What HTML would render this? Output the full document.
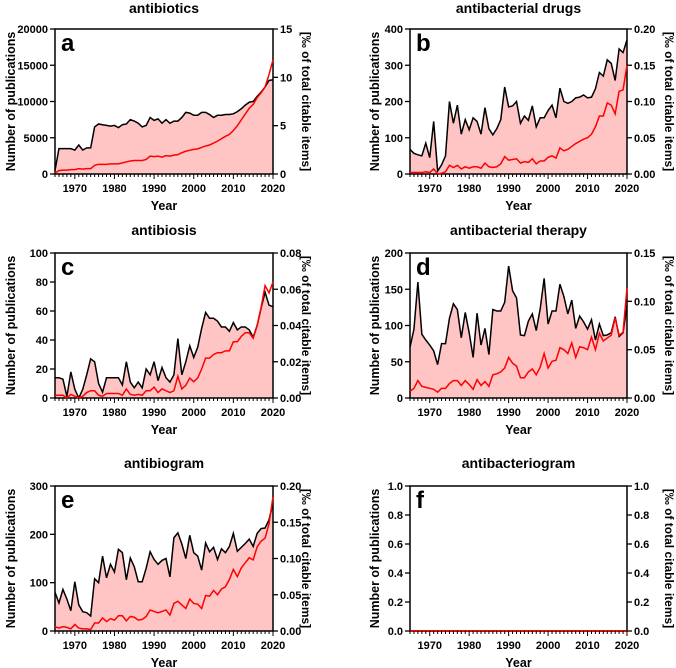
<!DOCTYPE html>
<html><head><meta charset="utf-8"><style>
body{margin:0;background:#fff;}
svg{display:block;font-family:"Liberation Sans",Arial,sans-serif;font-weight:bold;}
</style></head><body>
<svg id="fig" width="676" height="668" viewBox="0 0 676 668" xmlns="http://www.w3.org/2000/svg"></svg>
<script>
const years = []; for (let y = 1965; y <= 2020; y++) years.push(y);
const xTickLabels = [1970, 1980, 1990, 2000, 2010, 2020];
const titles = ["antibiotics","antibacterial drugs","antibiosis","antibacterial therapy","antibiogram","antibacteriogram"];
const letters = ["a","b","c","d","e","f"];
const leftTicks = [[0,5000,10000,15000,20000],[0,100,200,300,400],[0,20,40,60,80,100],[0,50,100,150,200],[0,100,200,300],[0,0.2,0.4,0.6,0.8,1.0]];
const leftTickLabels = [["0","5000","10000","15000","20000"],["0","100","200","300","400"],["0","20","40","60","80","100"],["0","50","100","150","200"],["0","100","200","300"],["0.0","0.2","0.4","0.6","0.8","1.0"]];
const rightTicks = [[0,5,10,15],[0,0.05,0.10,0.15,0.20],[0,0.02,0.04,0.06,0.08],[0,0.05,0.10,0.15],[0,0.05,0.10,0.15,0.20],[0,0.2,0.4,0.6,0.8,1.0]];
const rightTickLabels = [["0","5","10","15"],["0.00","0.05","0.10","0.15","0.20"],["0.00","0.02","0.04","0.06","0.08"],["0.00","0.05","0.10","0.15"],["0.00","0.05","0.10","0.15","0.20"],["0.0","0.2","0.4","0.6","0.8","1.0"]];

const pubsA = [500,3500,3500,3500,3500,3300,4000,3300,3600,3600,6500,6900,6800,6700,6600,6700,6400,6800,6900,7500,7300,7000,6500,6700,7800,7400,7600,7000,7500,7000,7300,7300,7800,8500,8400,8100,8100,8500,8500,8200,7800,8100,8100,8200,8200,8300,8600,9000,9500,9900,10000,10700,11300,12000,12900,13000];
const permA = [0.1,0.35,0.4,0.4,0.45,0.45,0.55,0.5,0.55,0.55,0.9,1.0,1.0,1.0,1.05,1.05,1.05,1.15,1.25,1.35,1.4,1.4,1.4,1.5,1.85,1.8,1.85,1.75,1.9,1.85,1.95,2.0,2.2,2.35,2.45,2.55,2.6,2.75,2.9,3.0,3.2,3.4,3.65,3.9,4.1,4.5,5.0,5.6,6.2,6.8,7.2,7.9,8.4,9.0,10.3,11.8];
const pubsB = [68,57,53,50,85,45,145,8,25,50,200,140,190,110,150,122,155,145,110,183,125,108,125,150,240,185,188,200,140,160,148,188,130,155,155,175,190,155,237,200,195,200,210,212,218,210,212,235,280,270,315,305,258,345,335,370];
const permB = [0.002,0.002,0.002,0.002,0.003,0.002,0.007,0,0.001,0.003,0.012,0.009,0.012,0.007,0.01,0.008,0.01,0.01,0.008,0.015,0.01,0.009,0.01,0.014,0.024,0.019,0.02,0.021,0.015,0.017,0.016,0.021,0.014,0.018,0.018,0.023,0.025,0.022,0.036,0.032,0.034,0.038,0.042,0.045,0.048,0.05,0.055,0.065,0.08,0.08,0.098,0.095,0.083,0.114,0.116,0.15];
const pubsC = [14,14,13,1,18,6,0,6,16,27,25,10,4,14,14,14,14,9,25,11,7,11,7,20,16,25,12,21,14,11,16,41,16,25,36,28,35,48,59,55,55,53,49,49,46,52,47,49,49,47,42,50,62,73,64,63];
const permC = [0.0015,0.0015,0.0015,0,0.002,0.001,0,0.001,0.003,0.004,0.004,0.0015,0.001,0.0025,0.0025,0.0025,0.0025,0.0015,0.005,0.002,0.0015,0.002,0.0015,0.004,0.004,0.006,0.003,0.005,0.004,0.003,0.004,0.012,0.005,0.007,0.011,0.009,0.011,0.016,0.022,0.022,0.024,0.025,0.025,0.026,0.026,0.031,0.031,0.034,0.036,0.036,0.033,0.04,0.05,0.062,0.058,0.064];
const pubsD = [70,95,160,88,80,73,65,46,75,75,110,130,122,83,118,90,56,117,73,96,60,122,120,120,132,182,148,138,87,86,106,116,93,123,165,102,120,120,157,140,116,135,96,113,105,95,108,80,102,86,87,90,112,85,90,128];
const permD = [0.007,0.01,0.018,0.012,0.011,0.01,0.009,0.006,0.01,0.01,0.015,0.018,0.018,0.013,0.018,0.014,0.009,0.019,0.013,0.017,0.012,0.024,0.025,0.027,0.031,0.042,0.036,0.033,0.021,0.021,0.027,0.03,0.024,0.032,0.046,0.031,0.038,0.039,0.052,0.05,0.046,0.057,0.042,0.053,0.052,0.05,0.063,0.05,0.067,0.059,0.062,0.065,0.083,0.065,0.068,0.114];
const pubsE = [80,58,86,66,42,102,54,40,38,31,108,100,155,110,138,122,169,162,106,151,133,102,102,130,164,148,138,146,150,112,193,203,180,150,198,162,155,126,182,164,173,148,170,162,175,202,165,173,181,190,175,202,212,213,230,265];
const permE = [0.006,0.004,0.006,0.005,0.003,0.009,0.004,0.003,0.003,0.002,0.011,0.011,0.018,0.013,0.017,0.015,0.021,0.021,0.014,0.02,0.019,0.015,0.016,0.02,0.029,0.027,0.025,0.027,0.029,0.022,0.038,0.041,0.036,0.031,0.044,0.038,0.037,0.031,0.049,0.048,0.056,0.05,0.058,0.061,0.071,0.085,0.075,0.087,0.094,0.101,0.098,0.116,0.124,0.128,0.148,0.185];
const pubsF = years.map(() => 0);
const permF = years.map(() => 0);

const pubs = [pubsA,pubsB,pubsC,pubsD,pubsE,pubsF];
const perm = [permA,permB,permC,permD,permE,permF];

const NS = "http://www.w3.org/2000/svg";
const svg = document.getElementById("fig");
function mk(tag, attrs, parent, text) {
  const e = document.createElementNS(NS, tag);
  for (const k in attrs) e.setAttribute(k, attrs[k]);
  if (text !== undefined) e.textContent = text;
  (parent || svg).appendChild(e);
  return e;
}
const cols = [{x0:55,x1:273,yl:11,yr:306},{x0:410,x1:627,yl:375,yr:669}];
const rows = [{y0:29,y1:174,t:8},{y0:253,y1:398,t:230},{y0:486,y1:631,t:463}];

for (let p = 0; p < 6; p++) {
  const c = cols[p % 2], r = rows[Math.floor(p / 2)];
  const g = mk("g", {});
  
  
  const lt = leftTicks[p], rt = rightTicks[p];
  const lmax = lt[lt.length - 1], rmax = rt[rt.length - 1];
  const xs = v => c.x0 + (v - 1965) / 55 * (c.x1 - c.x0);
  const yL = v => r.y1 - v / lmax * (r.y1 - r.y0);
  const yR = v => r.y1 - v / rmax * (r.y1 - r.y0);
  const cx = (c.x0 + c.x1) / 2, cy = (r.y0 + r.y1) / 2;

  const t = mk("text", {x: cx, y: r.t + 5, "text-anchor": "middle", "font-size": 14}, g, titles[p]);
  
  

  let d = "M" + xs(years[0]) + "," + r.y1;
  years.forEach((y, i) => { d += " L" + xs(y).toFixed(2) + "," + yL(pubs[p][i]).toFixed(2); });
  d += " L" + xs(years[years.length - 1]) + "," + r.y1 + " Z";
  const area = mk("path", {d: d, fill: "#ffc4c4", stroke: "none"}, g);
  
  

  const frame = mk("rect", {x: c.x0, y: r.y0, width: c.x1 - c.x0, height: r.y1 - r.y0, fill: "none", stroke: "#000", "stroke-width": 1.5}, g);
  
  

  const lineB = mk("polyline", {points: years.map((y, i) => xs(y).toFixed(2) + "," + yL(pubs[p][i]).toFixed(2)).join(" "), fill: "none", stroke: "#000", "stroke-width": 1.5}, g);
  
  
  const lineR = mk("polyline", {points: years.map((y, i) => xs(y).toFixed(2) + "," + yR(perm[p][i]).toFixed(2)).join(" "), fill: "none", stroke: "#ff0000", "stroke-width": 1.5}, g);
  
  

  years.forEach(y => {
    const major = y % 10 === 0;
    mk("line", {x1: xs(y), x2: xs(y), y1: r.y1, y2: r.y1 + (major ? 5 : 3), stroke: "#000", "stroke-width": 1}, g);
  });
  xTickLabels.forEach(y => {
    const tl = mk("text", {x: xs(y), y: r.y1 + 18, "text-anchor": "middle", "font-size": 11}, g, String(y));
    
    
  });
  lt.forEach((v, i) => {
    mk("line", {x1: c.x0 - 5, x2: c.x0, y1: yL(v), y2: yL(v), stroke: "#000", "stroke-width": 1.3}, g);
    const tl = mk("text", {x: c.x0 - 7, y: yL(v) + 4, "text-anchor": "end", "font-size": 11}, g, leftTickLabels[p][i]);
    
    
  });
  rt.forEach((v, i) => {
    mk("line", {x1: c.x1, x2: c.x1 + 5, y1: yR(v), y2: yR(v), stroke: "#000", "stroke-width": 1.3}, g);
    const tl = mk("text", {x: c.x1 + 7, y: yR(v) + 4, "text-anchor": "start", "font-size": 11}, g, rightTickLabels[p][i]);
    
    
  });
  const xt = mk("text", {x: cx, y: r.y1 + 36, "text-anchor": "middle", "font-size": 12.5}, g, "Year");
  
  
  const ylt = mk("text", {x: c.yl, y: cy, "text-anchor": "middle", "font-size": 12.5, transform: "rotate(-90 " + c.yl + " " + cy + ") translate(0 4)"}, g, "Number of publications");
  
  
  const yrt = mk("text", {x: c.yr, y: cy, "text-anchor": "middle", "font-size": 12, transform: "rotate(90 " + c.yr + " " + cy + ") translate(0 4)"}, g, "[‰ of total citable items]");
  
  
  const lt2 = mk("text", {x: c.x0 + 6, y: r.y0 + 22, "font-size": 24}, g, letters[p]);
  
  
}
</script>
</body></html>
